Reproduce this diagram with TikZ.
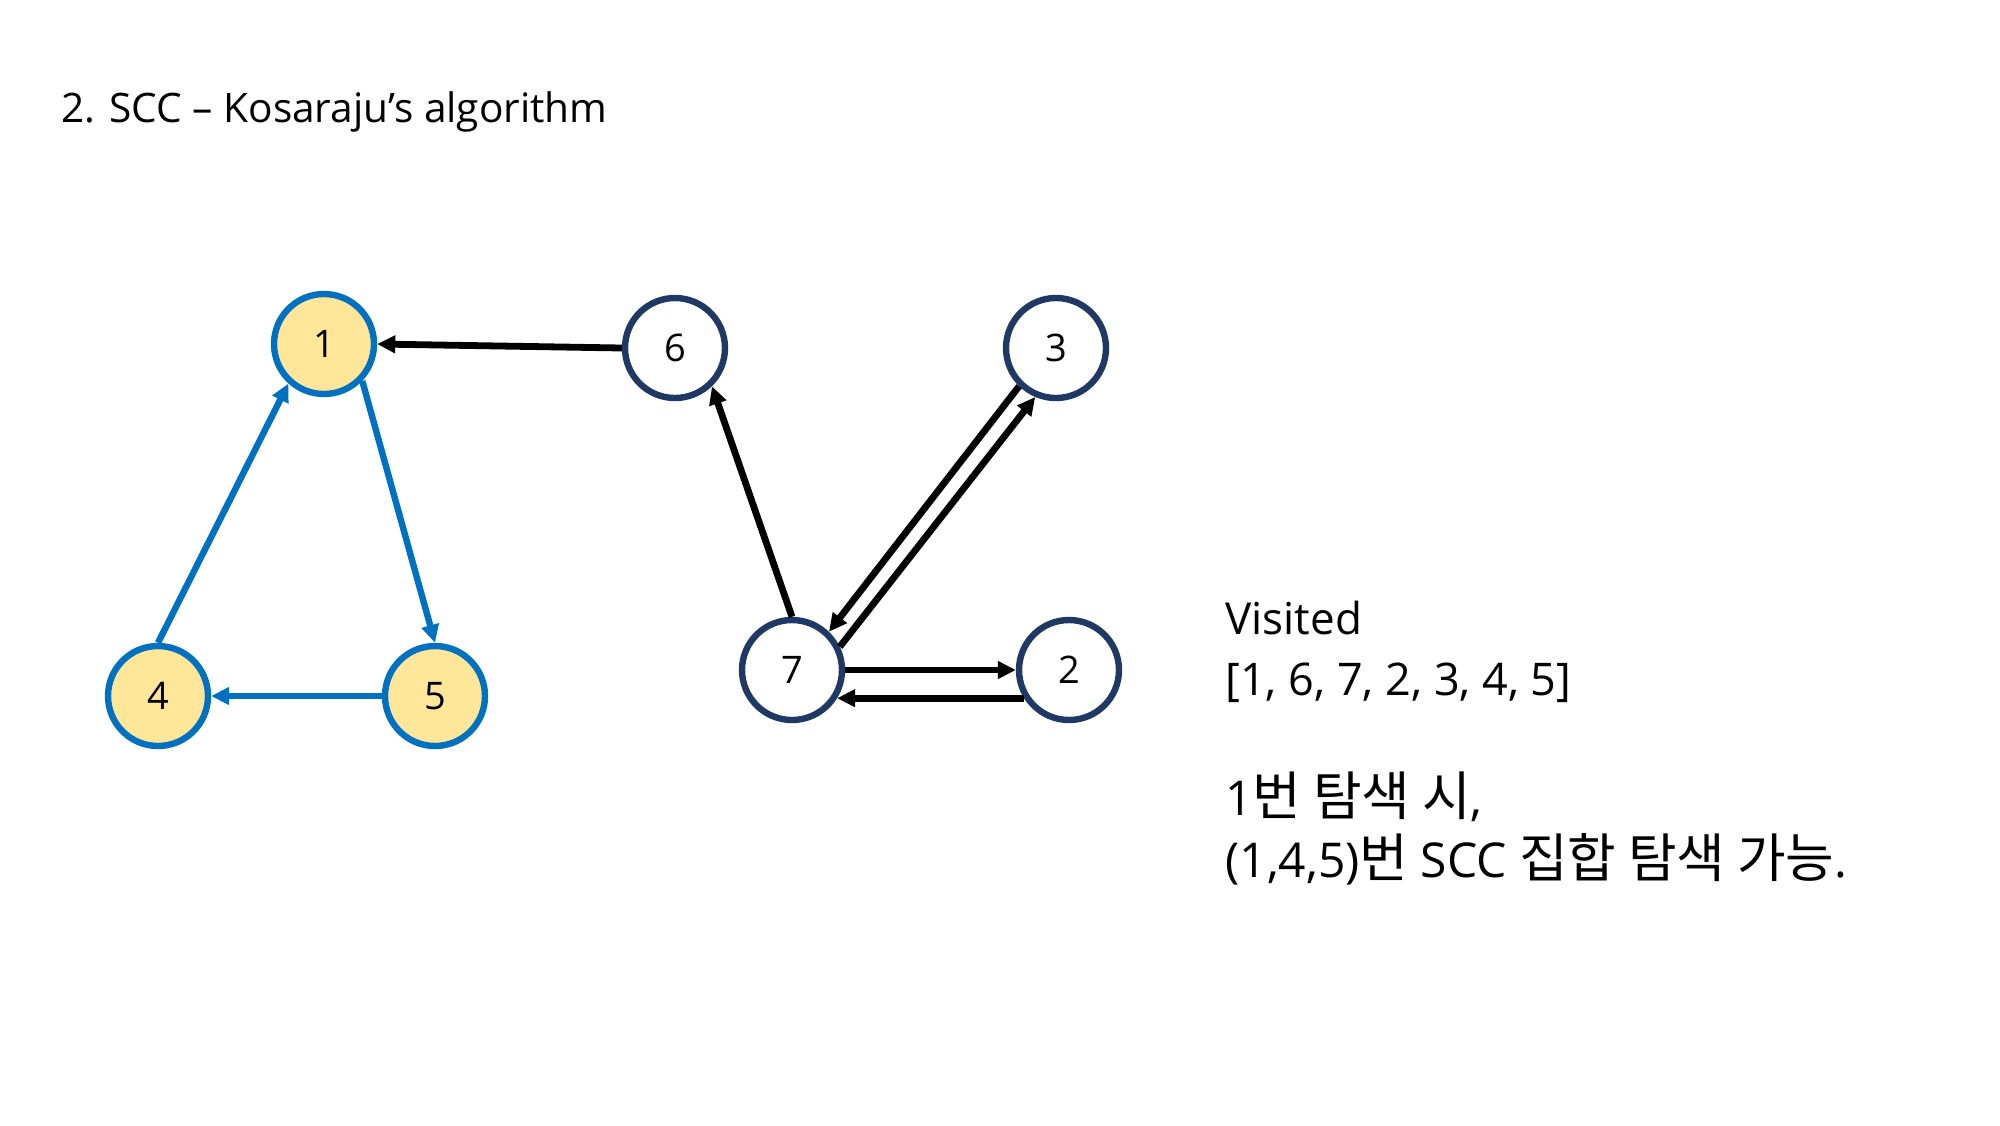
\documentclass[tikz,border=0pt]{standalone}
\usepackage{fontspec}
\setmainfont{Open Sans}
\newfontfamily\kr{Noto Sans CJK KR}[Scale=1.1]
\usetikzlibrary{arrows.meta}
\definecolor{sccblue}{HTML}{0070C0}
\definecolor{sccfill}{HTML}{FFE699}
\definecolor{navy}{HTML}{1F3864}
\begin{document}
\begin{tikzpicture}[x=0.5pt,y=-0.5pt,
  vnode/.style={circle,draw=navy,line width=3.2pt,fill=white,minimum size=50pt,inner sep=0pt,font=\fontsize{19}{22}\selectfont},
  snode/.style={circle,draw=sccblue,line width=3.2pt,fill=sccfill,minimum size=50pt,inner sep=0pt,font=\fontsize{19}{22}\selectfont},
  blk/.style={line width=3.4pt,black,-{Triangle[length=9pt,width=8.5pt]}},
  blu/.style={line width=3.2pt,sccblue,-{Triangle[length=9pt,width=8.5pt]}},
  txt/.style={anchor=base west,inner sep=0pt}]
\path[use as bounding box,fill=white] (0,0) rectangle (2000,1125);
\node[txt,font=\fontsize{20.3}{24}\selectfont] (title) at (61,122) {2. SCC – Kosaraju’s algorithm};
\node[snode] (n1) at (324,344) {1};
\node[vnode] (n6) at (675,348) {6};
\node[vnode] (n3) at (1056,348) {3};
\node[vnode] (n7) at (792,670) {7};
\node[vnode] (n2) at (1069,670) {2};
\node[snode] (n4) at (158,696) {4};
\node[snode] (n5) at (435,696) {5};
\draw[blk] (n6.west) -- (n1.east);
\draw[blk] (n7.north) -- (n6.-46);
\draw[blk] (n3.226) -- (n7.46);
\draw[blk] (n7.26) -- (n3.247);
\draw[blk] (n7.east) -- (n2.west);
\draw[blk] (n2.212) -- (n7.328);
\draw[blu] (n4.north) -- (n1.228);
\draw[blu] (n1.-44) -- (n5.north);
\draw[blu] (n5.west) -- (n4.east);
\node[txt,font=\fontsize{22}{26}\selectfont] (v1) at (1225,634) {Visited};
\node[txt,font=\fontsize{22.5}{26}\selectfont] (v2) at (1225,695) {[1, 6, 7, 2, 3, 4, 5]};
\node[txt,font=\fontsize{24}{28}\selectfont] (k1) at (1225,815) {1{\kr 번 탐색 시},};
\node[txt,font=\fontsize{24}{28}\selectfont] (k2) at (1225,877) {(1,4,5){\kr 번} SCC {\kr 집합 탐색 가능}.};
\end{tikzpicture}
\end{document}
